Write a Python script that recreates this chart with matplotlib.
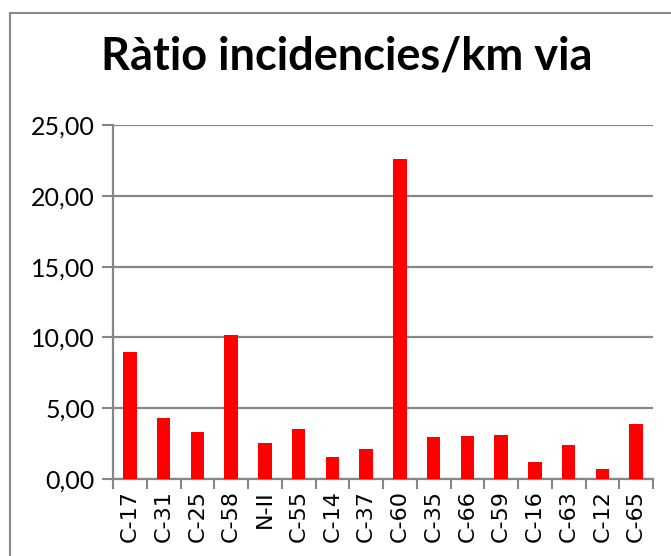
import matplotlib
matplotlib.use("Agg")
import matplotlib.pyplot as plt
from matplotlib.patches import Rectangle
from matplotlib.ticker import FuncFormatter, FixedLocator
import numpy as np

categories = ["C-17", "C-31", "C-25", "C-58", "N-II", "C-55", "C-14", "C-37",
              "C-60", "C-35", "C-66", "C-59", "C-16", "C-63", "C-12", "C-65"]
values = [9.00, 4.33, 3.29, 10.19, 2.54, 3.53, 1.58, 2.09,
          22.62, 2.94, 3.06, 3.08, 1.20, 2.40, 0.73, 3.91]
yticks = [0, 5, 10, 15, 20, 25]
title = "Ràtio incidencies/km via"

W, H = 671, 556
fig = plt.figure(figsize=(W/100, H/100), dpi=100)
fig.patch.set_facecolor("white")

# outer chart border
fig.add_artist(Rectangle((10/W, -0.05), 1.2, (H-13)/H + 0.05, transform=fig.transFigure,
                         fill=False, edgecolor="#888888", linewidth=1.5))

left, right, top, bottom = 113, 653, 125, 479
ax = fig.add_axes([left/W, 1-bottom/H, (right-left)/W, (bottom-top)/H])

x = np.arange(len(categories))
ax.bar(x, values, width=0.4, color="#ff0000", zorder=3)
ax.set_xlim(-0.5, len(categories)-0.5)
ax.set_ylim(0, 25)

ax.yaxis.set_major_locator(FixedLocator(yticks))
ax.yaxis.set_major_formatter(FuncFormatter(lambda v, p: f"{v:.2f}".replace(".", ",")))
ax.grid(axis="y", color="#868686", linewidth=1.6, zorder=0)
ax.set_axisbelow(True)

ax.set_xticks(x)
ax.set_xticklabels(categories, rotation=90, fontsize=16, family="DejaVu Sans")
ax.tick_params(axis="x", length=0, pad=8)
ax.set_xticks(np.arange(len(categories)+1)-0.5, minor=True)
ax.tick_params(axis="x", which="minor", length=7, width=1.5, color="#868686")
ax.tick_params(axis="y", length=8, width=1.5, color="#868686", pad=5)
for lab in ax.get_yticklabels():
    lab.set_fontsize(18)
    lab.set_family(["Lato", "DejaVu Sans"])

for s in ["top", "right"]:
    ax.spines[s].set_visible(False)
for s in ["left", "bottom"]:
    ax.spines[s].set_color("#868686")
    ax.spines[s].set_linewidth(1.6)

fig.text(347/W, 1-57/H, title, ha="center", va="center",
         fontsize=32.5, fontweight="bold", family=["Lato", "DejaVu Sans"])

fig.savefig("out.png", dpi=100)
